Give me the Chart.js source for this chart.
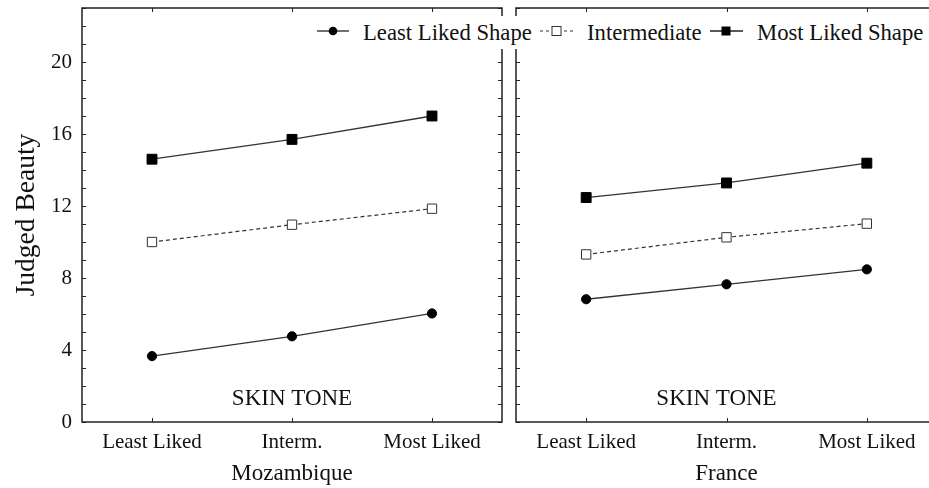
<!DOCTYPE html>
<html>
<head>
<meta charset="utf-8">
<title>Judged Beauty by skin tone</title>
<script src="https://cdn.jsdelivr.net/npm/chart.js@4"></script>
<style>
    html, body { margin: 0; padding: 0; background: #fff; width: 929px; height: 488px; overflow: hidden; }
    .panel { position: absolute; top: 0; height: 488px; }
    #leftPanel { left: 0; width: 510px; }
    #rightPanel { left: 505px; width: 440px; }
    #legend {
        position: absolute; left: 310px; top: 16px; width: 619px; height: 33px;
        background: #fff;
        font-family: "Liberation Serif", serif; font-size: 22.7px; color: #111;
        white-space: nowrap;
    }
    #legend svg, #legend span { position: absolute; }
    #legend span { top: 3px; line-height: 28px; }
</style>
</head>
<body>
<div class="panel" id="leftPanel"><canvas id="mozChart"></canvas></div>
<div class="panel" id="rightPanel"><canvas id="fraChart"></canvas></div>
<div id="legend"></div>

<script>
// data
const skinTone = ['Least Liked', 'Interm.', 'Most Liked'];
const yTickLabels = [0, 4, 8, 12, 16, 20];
const seriesNames = ['Least Liked Shape', 'Intermediate', 'Most Liked Shape'];

const mozLeast = [3.66, 4.76, 6.03];
const mozInter = [10.0, 10.96, 11.85];
const mozMost = [14.6, 15.7, 17.0];

const fraLeast = [6.82, 7.65, 8.48];
const fraInter = [9.31, 10.26, 11.02];
const fraMost = [12.47, 13.28, 14.38];

Chart.defaults.font.family = '"Liberation Serif", serif';
Chart.defaults.color = '#111';

// box round the plot, inward ticks, and the SKIN TONE caption
const framePlugin = {
    id: 'frame',
    afterDatasetsDraw(chart, args, opts) {
        const { ctx, chartArea: a, scales: { x, y } } = chart;
        ctx.save();
        ctx.strokeStyle = '#222';
        ctx.lineWidth = 1.5;
        ctx.strokeRect(a.left, a.top, a.right - a.left, a.bottom - a.top);

        ctx.lineWidth = 1;
        ctx.beginPath();
        y.ticks.forEach((t, i) => {
            const py = Math.round(y.getPixelForTick(i)) + 0.5;
            ctx.moveTo(a.left, py); ctx.lineTo(a.left + 4, py);
            ctx.moveTo(a.right, py); ctx.lineTo(a.right - 4, py);
        });
        x.ticks.forEach((t, i) => {
            const px = Math.round(x.getPixelForTick(i)) + 0.5;
            ctx.moveTo(px, a.top); ctx.lineTo(px, a.top + 4);
            ctx.moveTo(px, a.bottom); ctx.lineTo(px, a.bottom - 4);
        });
        ctx.stroke();

        ctx.fillStyle = '#111';
        ctx.font = '23px "Liberation Serif", serif';
        ctx.textAlign = 'center';
        ctx.textBaseline = 'middle';
        ctx.fillText(opts.label, (a.left + a.right) / 2 + opts.shift, a.bottom - 23);
        ctx.restore();
    }
};

function buildDatasets(least, inter, most) {
    return [
        {
            label: seriesNames[0], data: least,
            borderColor: '#333', borderWidth: 1.3,
            pointStyle: 'circle', pointRadius: 4.6,
            pointBackgroundColor: '#000', pointBorderColor: '#000', pointBorderWidth: 1
        },
        {
            label: seriesNames[1], data: inter,
            borderColor: '#333', borderWidth: 1.2, borderDash: [4, 3],
            pointStyle: 'rect', pointRadius: 6.6,
            pointBackgroundColor: '#fff', pointBorderColor: '#333', pointBorderWidth: 1
        },
        {
            label: seriesNames[2], data: most,
            borderColor: '#333', borderWidth: 1.3,
            pointStyle: 'rect', pointRadius: 7,
            pointBackgroundColor: '#000', pointBorderColor: '#000', pointBorderWidth: 1
        }
    ];
}

function makeChart(canvasId, country, datasets, cfg) {
    const ctx = document.getElementById(canvasId).getContext('2d');
    return new Chart(ctx, {
        type: 'line',
        data: { labels: skinTone, datasets: datasets },
        options: {
            responsive: true,
            maintainAspectRatio: false,
            animation: false,
            layout: { padding: { left: 0, right: cfg.padRight, top: 7, bottom: 0 } },
            plugins: {
                legend: { display: false },
                tooltip: { enabled: false },
                frame: { label: 'SKIN TONE', shift: cfg.labelShift }
            },
            scales: {
                x: {
                    offset: true,
                    grid: { display: false, drawTicks: false },
                    border: { display: false },
                    ticks: { padding: 8, font: { size: 21 }, maxRotation: 0 },
                    title: { display: true, text: country, font: { size: 23 }, padding: { top: 0, bottom: 0 } },
                    afterFit: s => {
                        s.height = 66;
                        s.paddingLeft = 0;
                        s.paddingRight = 0;
                    }
                },
                y: {
                    min: 0,
                    max: 23,
                    grid: { display: false, drawTicks: false },
                    border: { display: false },
                    ticks: {
                        stepSize: 1,
                        autoSkip: false,
                        padding: 10,
                        font: { size: 21 },
                        callback: v => (cfg.showY && yTickLabels.includes(v)) ? v : ''
                    },
                    title: {
                        display: cfg.showY,
                        text: 'Judged Beauty',
                        font: { size: 27.5 },
                        padding: { top: 10, bottom: 0 }
                    },
                    afterFit: s => {
                        s.width = cfg.yWidth;
                        s.paddingTop = 0;
                        s.paddingBottom = 0;
                    }
                }
            }
        },
        plugins: [framePlugin]
    });
}

makeChart('mozChart', 'Mozambique', buildDatasets(mozLeast, mozInter, mozMost),
    { padRight: 7, yWidth: 82, showY: true, labelShift: 0 });
makeChart('fraChart', 'France', buildDatasets(fraLeast, fraInter, fraMost),
    { padRight: 7, yWidth: 11, showY: false, labelShift: -10 });

// legend row that sits over both panels (x offsets are relative to the legend box)
const markers = [
    '<line x1="0" y1="6" x2="32" y2="6" stroke="#222" stroke-width="1.3"/><circle cx="16" cy="6" r="4.3" fill="#000"/>',
    '<line x1="0" y1="6" x2="33" y2="6" stroke="#333" stroke-width="1.2" stroke-dasharray="3 3"/><rect x="12" y="1.5" width="9" height="9" fill="#fff" stroke="#333"/>',
    '<line x1="0" y1="6" x2="33" y2="6" stroke="#222" stroke-width="1.3"/><rect x="11.5" y="1.5" width="9" height="9" fill="#000"/>'
];
const markerLeft = [7, 230, 400];
const textLeft = [53, 277, 447];
document.getElementById('legend').innerHTML = seriesNames.map((name, i) => `
    <svg width="33" height="12" style="left:${markerLeft[i]}px; top:9px">${markers[i]}</svg>
    <span style="left:${textLeft[i]}px">${name}</span>
`).join('');
</script>
</body>
</html>
